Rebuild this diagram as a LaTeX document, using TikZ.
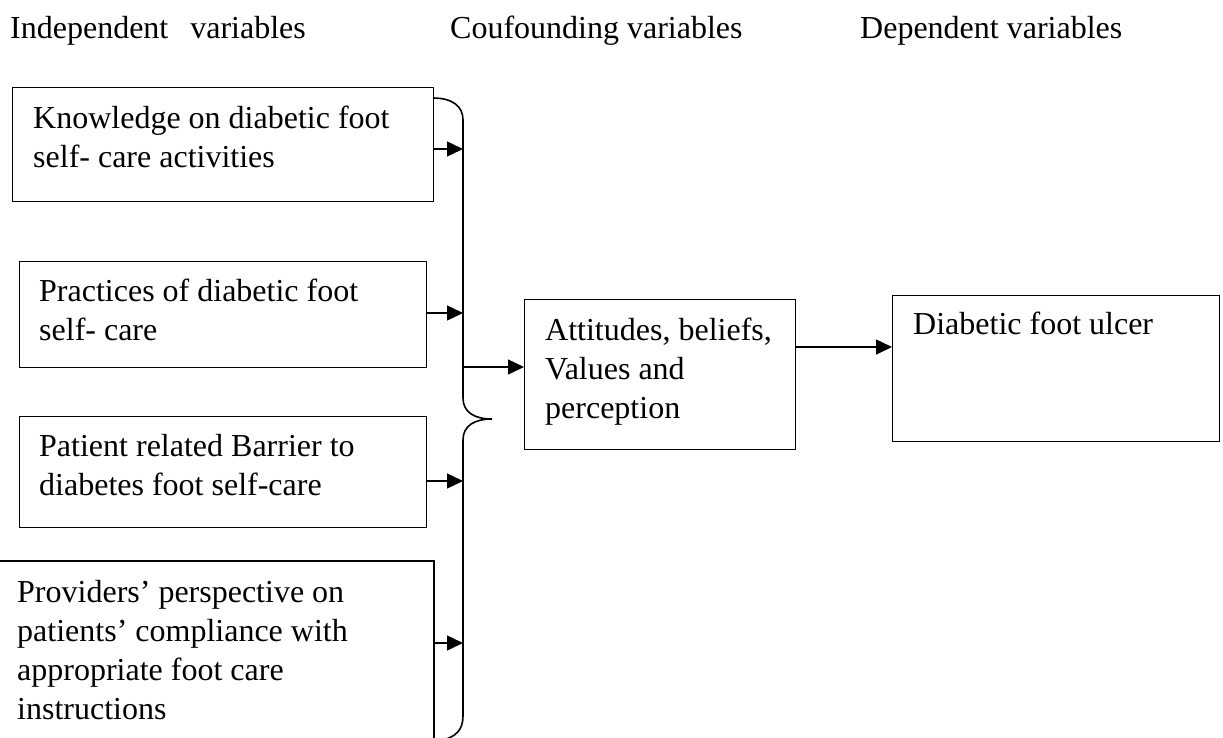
\documentclass[tikz,border=0pt]{standalone}
\usepackage{fontspec}
\setmainfont{Liberation Serif}
\usetikzlibrary{arrows.meta}
\begin{document}
\begin{tikzpicture}[x=1pt,y=-1pt,
  box/.style={draw, line width=1.2pt, inner sep=0pt, anchor=north west},
  thickbox/.style={box, line width=2.4pt},
  txt/.style={inner sep=0pt, anchor=base west, align=left, font=\fontsize{32}{39}\selectfont},
  arr/.style={line width=1.4pt, -{Triangle[length=16pt,width=15pt]}},
  bracepath/.style={line width=1.6pt}
]
\useasboundingbox (0,0) rectangle (1223,737);

% headers
\node[txt] (h1) at (10,38) {Independent\hspace{22pt}variables};
\node[txt] (h2) at (450,38) {Coufounding variables};
\node[txt] (h3) at (860,38) {Dependent variables};

% independent variable boxes (text anchored at the baseline of the last line)
\node[box, minimum width=421pt, minimum height=114pt] (b1) at (12,87) {};
\node[txt] (t1) at (33,167) {Knowledge on diabetic foot\\self- care activities};

\node[box, minimum width=407pt, minimum height=106pt] (b2) at (19,261) {};
\node[txt] (t2) at (39,340) {Practices of diabetic foot\\self- care};

\node[box, minimum width=407pt, minimum height=111pt] (b3) at (19,416) {};
\node[txt] (t3) at (39,495) {Patient related Barrier to\\diabetes foot self-care};

\node[thickbox, minimum width=438pt, minimum height=190pt] (b4) at (-5,560) {};
\node[txt] (t4) at (17,719) {Providers’ perspective on\\patients’ compliance with\\appropriate foot care\\instructions};

% confounding and dependent boxes
\node[box, minimum width=271pt, minimum height=150pt] (mid) at (524,299) {};
\node[txt] (tm) at (545,418) {Attitudes, beliefs,\\Values and\\perception};

\node[box, minimum width=327pt, minimum height=146pt] (dep) at (892,295) {};
\node[txt] (td) at (913,334) {Diabetic foot ulcer};

% brace
\draw[bracepath] (433,98) .. controls (452,98) and (463,106) .. (463,120)
  -- (463,398) .. controls (463,412) and (474,419) .. (492,419)
  .. controls (474,419) and (463,426) .. (463,440)
  -- (463,716) .. controls (463,730) and (456,737) .. (440,741);

% arrow end points on brace
\coordinate (k1) at (463,149);
\coordinate (k2) at (463,313);
\coordinate (k3) at (463,481);
\coordinate (k4) at (463,643);
\coordinate (m0) at (463,367);
\coordinate (c2) at (795,347);

\draw[arr] (b1.east |- k1) -- (k1);
\draw[arr] (b2.east |- k2) -- (k2);
\draw[arr] (b3.east |- k3) -- (k3);
\draw[arr] (b4.east |- k4) -- (k4);
\draw[arr] (m0) -- (m0 -| mid.west);
\draw[arr] (c2 -| mid.east) -- (c2 -| dep.west);
\end{tikzpicture}
\end{document}
